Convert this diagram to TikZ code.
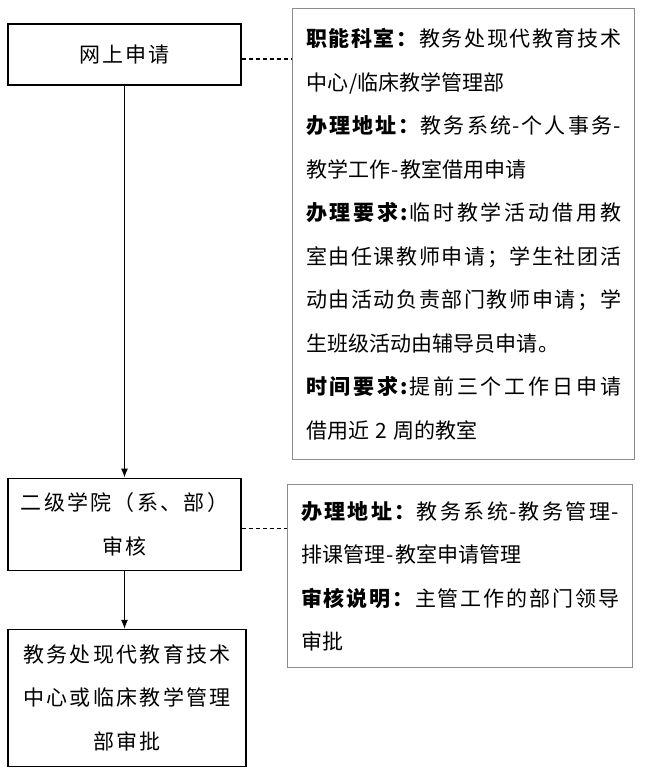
\documentclass[tikz,border=0pt]{standalone}
\usepackage{fontspec}
\setmainfont{Noto Sans CJK SC}[LetterSpace=8]
\newfontfamily\stepfont{Noto Sans CJK SC}[LetterSpace=11]
\usepackage{tikz}
\usetikzlibrary{positioning, arrows.meta}
\definecolor{noteBorder}{HTML}{8C8C8C}
\XeTeXlinebreaklocale "zh"
\XeTeXlinebreakskip=0pt plus 6pt
\setlength{\parindent}{0pt}
\tolerance=10000
\newcommand{\fieldname}[1]{\textbf{#1}}

\begin{document}
\begin{tikzpicture}[x=1pt, y=-1pt, stepbox/.style={draw, line width=1.2pt, inner sep=0pt, align=center, font=\stepfont\fontsize{21}{43.5}\selectfont},notebox/.style={draw=noteBorder, line width=1.2pt, anchor=north west, inner xsep=13.5pt, inner ysep=0pt, align=justify, font=\fontsize{21}{43.5}\selectfont},arr/.style={-{Latex[length=9pt, width=7pt]}, line width=1.2pt},link/.style={dash pattern=on 4pt off 3pt, line width=1.2pt}]
\useasboundingbox (0,0) rectangle (645,772);
\node[stepbox, minimum width=233pt, minimum height=61pt] (apply) at (124.5,54.5) {网上申请};
\node[stepbox, minimum width=233pt, minimum height=92pt, below=392pt of apply] (review) {二级学院（系、部）\\审核};
\node[stepbox, minimum width=238pt, minimum height=137pt, below=58pt of review, xshift=2.5pt] (approve) {教务处现代教育技术\\中心或临床教学管理\\部审批};
\node[notebox, text width=315pt, minimum height=451pt] (info1) at (292,8) {\fieldname{职能科室：}教务处现代教育技术\linebreak 中心/临床教学管理部\par\fieldname{办理地址：}教务系统-个人事务-\linebreak 教学工作-教室借用申请\par\fieldname{办理要求:}临时教学活动借用教\linebreak 室由任课教师申请；学生社团活\linebreak 动由活动负责部门教师申请；学\linebreak 生班级活动由辅导员申请。\par\fieldname{时间要求:}提前三个工作日申请\linebreak 借用近 2 周的教室};
\node[notebox, text width=318pt, minimum height=183pt] (info2) at (287,484) {\fieldname{办理地址：}教务系统-教务管理-\linebreak 排课管理-教室申请管理\par\fieldname{审核说明：}主管工作的部门领导\linebreak 审批};
\draw[link] ([yshift=-4.5pt]apply.east) -- ([yshift=-4.5pt]apply.east -| info1.west);
\draw[link] ([yshift=-4pt]review.east) -- ([yshift=-4pt]review.east -| info2.west);
\draw[arr] (apply) -- (review);
\draw[arr] (review.south) -- (review.south |- approve.north);
\end{tikzpicture}
\end{document}
